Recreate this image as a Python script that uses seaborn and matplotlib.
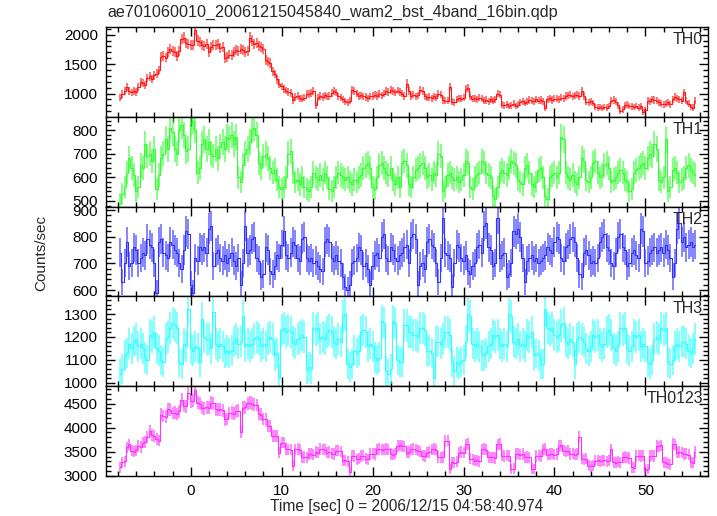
import numpy as np
import matplotlib
matplotlib.use("Agg")
import matplotlib.pyplot as plt
import seaborn as sns
from matplotlib.ticker import MultipleLocator

TITLE = "ae701060010_20061215045840_wam2_bst_4band_16bin.qdp"
XLABEL = "Time [sec] 0 = 2006/12/15 04:58:40.974"
YLABEL = "Counts/sec"
BANDS = ["TH0", "TH1", "TH2", "TH3", "TH0123"]
TSTART = -7.75   # centre of first bin [sec]
BIN = 0.25       # bin width [sec]

th0 = [
    930, 990, 1040, 1110, 1040, 1020, 1045, 1030, 1110, 1200, 1180, 1140,
    1260, 1290, 1250, 1310, 1340, 1400, 1620, 1640, 1610, 1700, 1750, 1720,
    1700, 1640, 1720, 1930, 1950, 1860, 1840, 1820, 1830, 2080, 1900, 1870,
    1820, 1800, 1840, 1710, 1790, 1830, 1820, 1840, 1770, 1790, 1600, 1620,
    1660, 1650, 1700, 1740, 1720, 1750, 1740, 1700, 1720, 1950, 1900, 1840,
    1860, 1800, 1790, 1760, 1570, 1540, 1520, 1380, 1330, 1240, 1170, 1120,
    1080, 1050, 1030, 1010, 890, 940, 960, 920, 910, 930, 1000, 990,
    1010, 1040, 800, 930, 960, 940, 970, 950, 960, 1010, 1040, 1020,
    950, 930, 900, 870, 850, 880, 1060, 1040, 1000, 960, 970, 950,
    940, 920, 950, 960, 980, 960, 990, 970, 1000, 1040, 1030, 1060,
    1040, 1020, 1050, 1030, 1000, 960, 1170, 1040, 960, 980, 950, 970,
    1060, 1040, 950, 930, 940, 920, 950, 930, 1000, 980, 890, 880,
    880, 1110, 860, 850, 900, 920, 910, 930, 1080, 1090, 960, 910,
    920, 900, 930, 910, 880, 890, 870, 900, 880, 900, 1000, 980,
    810, 800, 820, 790, 800, 830, 790, 810, 850, 870, 840, 860,
    890, 880, 870, 900, 880, 890, 870, 750, 900, 920, 890, 910,
    910, 900, 930, 920, 960, 970, 980, 950, 970, 980, 960, 1040,
    960, 860, 850, 870, 840, 770, 760, 770, 750, 770, 760, 790,
    880, 890, 860, 800, 710, 730, 800, 810, 790, 780, 770, 790,
    760, 780, 690, 720, 880, 870, 900, 890, 880, 850, 830, 820,
    830, 850, 820, 900, 940, 920, 900, 880, 1020, 880, 830, 770,
    760, 880,
]

th1 = [
    490, 530, 560, 620, 680, 640, 610, 540, 560, 650, 640, 740,
    690, 700, 670, 720, 550, 610, 680, 700, 760, 720, 810, 790,
    720, 700, 800, 820, 780, 710, 720, 830, 840, 800, 620, 640,
    740, 760, 720, 750, 700, 690, 720, 680, 730, 750, 720, 770,
    760, 780, 740, 770, 600, 580, 650, 700, 720, 750, 800, 810,
    780, 660, 640, 690, 700, 680, 640, 620, 630, 590, 560, 550,
    560, 600, 700, 710, 620, 580, 590, 570, 600, 560, 550, 540,
    560, 620, 600, 590, 610, 590, 620, 600, 550, 540, 560, 600,
    620, 610, 600, 590, 600, 580, 570, 590, 580, 600, 610, 640,
    650, 660, 640, 560, 550, 600, 650, 660, 640, 620, 610, 640,
    590, 570, 600, 560, 660, 670, 650, 570, 560, 600, 630, 640,
    650, 660, 640, 600, 610, 590, 620, 610, 700, 690, 540, 560,
    610, 620, 600, 590, 600, 580, 590, 610, 670, 660, 560, 550,
    600, 610, 620, 670, 660, 620, 610, 600, 520, 510, 560, 620,
    630, 620, 610, 640, 670, 660, 650, 590, 580, 570, 640, 650,
    620, 570, 560, 580, 630, 640, 600, 520, 510, 600, 610, 620,
    600, 620, 770, 760, 620, 600, 590, 610, 580, 570, 600, 680,
    670, 590, 580, 600, 660, 670, 620, 600, 610, 650, 660, 640,
    580, 590, 600, 620, 630, 620, 590, 580, 540, 550, 620, 630,
    640, 650, 660, 640, 680, 700, 690, 740, 720, 590, 580, 600,
    760, 540, 560, 630, 640, 620, 580, 590, 600, 640, 650, 630,
    620, 610,
]

th2 = [
    740, 630, 700, 780, 690, 700, 760, 750, 700, 720, 740, 730,
    790, 770, 760, 700, 590, 780, 790, 740, 730, 720, 780, 770,
    750, 740, 700, 680, 750, 820, 810, 620, 590, 720, 710, 760,
    750, 760, 740, 830, 840, 690, 740, 750, 720, 710, 730, 700,
    720, 740, 710, 690, 720, 620, 700, 840, 740, 750, 790, 800,
    720, 710, 650, 660, 760, 750, 670, 660, 690, 730, 720, 770,
    820, 730, 720, 740, 780, 770, 720, 710, 790, 800, 720, 710,
    720, 700, 710, 690, 680, 670, 780, 790, 780, 720, 710, 730,
    710, 700, 650, 610, 600, 620, 700, 710, 720, 760, 750, 690,
    700, 680, 620, 690, 730, 740, 720, 800, 810, 720, 710, 760,
    750, 720, 710, 730, 740, 760, 770, 700, 800, 810, 790, 620,
    690, 700, 680, 780, 790, 770, 760, 700, 630, 720, 870, 740,
    730, 720, 610, 700, 770, 760, 720, 710, 730, 670, 660, 690,
    700, 760, 770, 740, 840, 850, 760, 750, 690, 700, 870, 720,
    730, 740, 650, 660, 700, 820, 810, 830, 800, 720, 630, 710,
    720, 730, 710, 720, 700, 710, 720, 730, 760, 750, 740, 780,
    800, 790, 720, 710, 760, 770, 790, 800, 780, 720, 660, 650,
    740, 750, 730, 700, 710, 700, 720, 780, 800, 810, 760, 750,
    700, 690, 740, 800, 810, 760, 750, 690, 700, 740, 750, 730,
    720, 830, 820, 700, 710, 740, 750, 760, 740, 750, 760, 740,
    770, 750, 720, 650, 700, 830, 850, 780, 800, 760, 770, 780,
    760, 770,
]

th3 = [
    1040, 1060, 1120, 1130, 1170, 1150, 1180, 1190, 1160, 1170, 1150, 1110,
    1100, 1210, 1200, 1220, 1150, 1140, 1100, 1090, 1190, 1200, 1240, 1260,
    1250, 1240, 1090, 1080, 1170, 1160, 1320, 1150, 1140, 1160, 1150, 1090,
    1280, 1200, 1190, 1190, 1150, 1310, 1170, 1160, 1170, 1160, 1130, 1140,
    1130, 1140, 1180, 1190, 1170, 1180, 1290, 1160, 1170, 1160, 1170, 1190,
    1200, 1190, 1160, 1170, 1160, 1190, 1200, 1190, 1120, 1130, 1020, 1230,
    1240, 1220, 1230, 1220, 1180, 1170, 1190, 1200, 1210, 1200, 1060, 1070,
    1060, 1240, 1230, 1240, 1190, 1200, 1190, 1220, 1230, 1220, 1180, 1170,
    1190, 1180, 1290, 1300, 1080, 1070, 1080, 1140, 1130, 1140, 1220, 1230,
    1220, 1160, 1170, 1160, 1110, 1100, 1110, 1270, 1260, 1050, 1040, 1060,
    1270, 1260, 1100, 1090, 1090, 1250, 1250, 1220, 1220, 1210, 1210, 1200,
    1240, 1240, 1230, 1140, 1140, 1130, 1020, 1180, 1180, 1170, 1190, 1220,
    1220, 1210, 1090, 1050, 1090, 1080, 1090, 1100, 1180, 1300, 1290, 1170,
    1160, 1170, 1160, 1120, 1120, 1130, 1160, 1170, 1210, 1200, 1210, 1170,
    1160, 1170, 1160, 1300, 1290, 1180, 1170, 1190, 1160, 1170, 1160, 1210,
    1200, 1220, 1120, 1130, 1120, 1080, 1080, 1320, 1240, 1230, 1240, 1210,
    1200, 1210, 1250, 1260, 1180, 1170, 1190, 1180, 1080, 1190, 1200, 1190,
    1180, 1150, 1140, 1160, 1210, 1200, 1210, 1170, 1160, 1170, 1220, 1230,
    1210, 1150, 1140, 1160, 1240, 1230, 1240, 1150, 1140, 1160, 1210, 1200,
    1210, 1160, 1170, 1160, 1090, 1080, 1100, 1190, 1200, 1190, 1240, 1230,
    1240, 1090, 1080, 1100, 1160, 1170, 1160, 1180, 1180, 1170, 1140, 1130,
    1150, 1190,
]

th0123 = [
    3180, 3280, 3300, 3590, 3650, 3520, 3500, 3530, 3620, 3600, 3690, 3700,
    3800, 3930, 3850, 3820, 3760, 3730, 4270, 4240, 4230, 4380, 4370, 4300,
    4310, 4280, 4340, 4580, 4450, 4440, 4720, 4550, 4560, 4790, 4520, 4500,
    4410, 4400, 4420, 4410, 4520, 4510, 4380, 4370, 4380, 4360, 4170, 4180,
    4300, 4310, 4290, 4340, 4350, 3900, 4410, 4420, 4510, 4520, 4500, 4480,
    4470, 4280, 4270, 4180, 4170, 4040, 4030, 3830, 3830, 3820, 3480, 3690,
    3690, 3560, 3550, 3540, 3210, 3550, 3560, 3540, 3380, 3390, 3380, 3450,
    3460, 3440, 3490, 3480, 3560, 3550, 3540, 3480, 3490, 3460, 3450, 3520,
    3520, 3510, 3310, 3320, 3300, 3070, 3420, 3410, 3340, 3350, 3410, 3420,
    3350, 3340, 3450, 3460, 3450, 3550, 3560, 3540, 3550, 3560, 3550, 3450,
    3440, 3460, 3620, 3630, 3620, 3610, 3480, 3490, 3550, 3560, 3540, 3520,
    3510, 3420, 3410, 3480, 3490, 3550, 3560, 3540, 3390, 3380, 3390, 3720,
    3730, 3140, 3280, 3270, 3290, 3480, 3490, 3480, 3650, 3660, 3350, 3340,
    3310, 3320, 3300, 3550, 3560, 3540, 3390, 3380, 3380, 3370, 3650, 3660,
    3420, 3410, 3420, 3410, 3140, 3150, 3450, 3460, 3440, 3450, 3380, 3390,
    3380, 3150, 3140, 3410, 3420, 3410, 3550, 3560, 3440, 3450, 3460, 3440,
    3450, 3620, 3630, 3520, 3510, 3520, 3450, 3460, 3440, 3450, 3800, 3350,
    3340, 3350, 3210, 3200, 3210, 3310, 3320, 3300, 3310, 3320, 3300, 3310,
    3550, 3280, 3270, 3290, 3280, 3380, 3390, 3380, 3370, 3180, 3170, 3410,
    3420, 3410, 3420, 3130, 3140, 3410, 3420, 3410, 3620, 3610, 3630, 3280,
    3270, 3250, 3240, 3660, 3650, 3480, 3490, 3480, 3450, 3460, 3440, 3280,
    3270, 3490,
]

SERIES = [th0, th1, th2, th3, th0123]

# ---------------- styling / layout ----------------
COLORS = ["#ff1a1a", "#33ff33", "#3333ff", "#33ffff", "#ff33ff"]
YLIMS = [(605, 2130), (476, 856), (576, 913), (985, 1377), (2995, 4860)]
YMAJOR = [500, 100, 100, 100, 500]
YMINOR = [100, 20, 20, 20, 100]
XLIM = (-9.3, 56.85)

sns.set_theme(style="ticks")
plt.rcParams["font.family"] = ["Liberation Sans", "DejaVu Sans"]
plt.rcParams["axes.edgecolor"] = "black"
plt.rcParams["axes.linewidth"] = 1.0
plt.rcParams["xtick.color"] = "black"
plt.rcParams["ytick.color"] = "black"

fig, axes = plt.subplots(5, 1, sharex=True, figsize=(7.17, 5.16), dpi=100)
fig.subplots_adjust(left=0.148, right=0.987, bottom=0.0775, top=0.9477, hspace=0)

for ax, name, vals, col, yl, ymaj, ymin in zip(axes, BANDS, SERIES, COLORS,
                                              YLIMS, YMAJOR, YMINOR):
    v = np.asarray(vals, dtype=float)
    t = TSTART + BIN * np.arange(len(v))
    err = np.sqrt(v * BIN) / BIN  # Poisson error of each bin's rate
    ax.errorbar(t, v, yerr=err, fmt="none", ecolor=col, elinewidth=1.2,
                alpha=0.7, capsize=0, zorder=2)
    sns.lineplot(x=t, y=v, ax=ax, color=col, lw=0.8, drawstyle="steps-mid",
                 estimator=None, sort=False, zorder=3)
    ax.set_ylim(*yl)
    ax.set_xlim(*XLIM)
    ax.yaxis.set_major_locator(MultipleLocator(ymaj))
    ax.yaxis.set_minor_locator(MultipleLocator(ymin))
    ax.xaxis.set_major_locator(MultipleLocator(10))
    ax.xaxis.set_minor_locator(MultipleLocator(2))
    ax.tick_params(which="both", direction="in", top=True, right=True,
                   labelsize=11, width=1.0, pad=6)
    ax.tick_params(which="major", length=6.5)
    ax.tick_params(which="minor", length=3.5)
    ax.set_ylabel("")
    ax.set_xlabel("")
    ax.text(0.992, 0.945, name, transform=ax.transAxes, ha="right", va="top",
            fontsize=11.5, zorder=5)
    for s in ax.spines.values():
        s.set_visible(True)
        s.set_color("black")

fig.text(107 / 717, 1 - 12 / 516, TITLE, ha="left", va="center", fontsize=11.6)
fig.text(0.058, 0.510, YLABEL, rotation=90, ha="center", va="center",
         fontsize=11)
fig.text(0.5676, 1 - 507 / 516, XLABEL, ha="center", va="center", fontsize=11.2)

fig.savefig("out.png", dpi=100)
